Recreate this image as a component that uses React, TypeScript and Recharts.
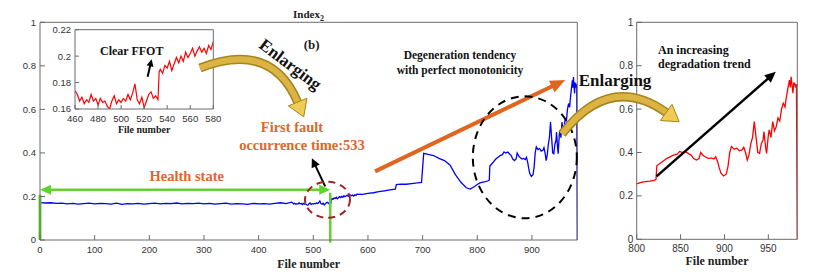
import React from "react";
import {
  LineChart,
  Line,
  XAxis,
  YAxis,
  ReferenceLine,
  ReferenceDot,
} from "recharts";

// index values, split by stage
const healthFiles = [
  0, 10, 20, 30, 40, 50, 60, 70, 80, 90, 100, 110, 120, 130, 140, 150, 160, 170,
  180, 190, 200, 210, 220, 230, 240, 250, 260, 270, 280, 290, 300, 310, 320, 330,
  340, 350, 360, 370, 380, 390, 400, 410, 420, 430, 440, 450,
];
const healthIndex = [
  0.172, 0.17, 0.171, 0.168, 0.169, 0.166, 0.168, 0.165, 0.167, 0.169, 0.166,
  0.168, 0.167, 0.165, 0.169, 0.164, 0.167, 0.166, 0.168, 0.165, 0.167, 0.169,
  0.166, 0.168, 0.167, 0.17, 0.166, 0.168, 0.167, 0.169, 0.166, 0.168, 0.165,
  0.167, 0.169, 0.165, 0.167, 0.166, 0.164, 0.168, 0.166, 0.167, 0.165, 0.168,
  0.171, 0.167,
];

const ffotFiles = [
  460, 462, 464, 466, 468, 470, 472, 474, 476, 478, 480, 482, 484, 486, 488, 490,
  492, 494, 496, 498, 500, 502, 504, 506, 508, 510, 512, 514, 516, 518, 520, 522,
  524, 526, 528, 530, 532, 533, 534, 536, 538, 540, 542, 544, 546, 548, 550, 552,
  554, 556, 558, 560, 562, 564, 566, 568, 570, 572, 574, 576, 578, 580,
];
const ffotIndex = [
  0.174, 0.171, 0.166, 0.169, 0.164, 0.167, 0.165, 0.171, 0.166, 0.168, 0.163,
  0.168, 0.165, 0.166, 0.162, 0.16, 0.166, 0.17, 0.164, 0.167, 0.165, 0.168,
  0.166, 0.171, 0.167, 0.172, 0.179, 0.167, 0.164, 0.169, 0.161, 0.166, 0.171,
  0.173, 0.168, 0.17, 0.167, 0.188, 0.19, 0.187, 0.193, 0.191, 0.196, 0.189,
  0.194, 0.199, 0.195, 0.2, 0.196, 0.203, 0.199, 0.202, 0.206, 0.2, 0.204, 0.207,
  0.203, 0.206, 0.202, 0.208, 0.205, 0.211,
];

const middleFiles = [
  590, 600, 610, 620, 630, 640, 650, 652, 660, 670, 680, 690, 698, 702, 710, 720,
  730, 740, 750, 760, 770, 780, 787, 795,
];
const middleIndex = [
  0.21, 0.214, 0.217, 0.222, 0.226, 0.23, 0.234, 0.255, 0.257, 0.256, 0.259,
  0.262, 0.265, 0.398, 0.393, 0.388, 0.375, 0.365, 0.345, 0.3, 0.265, 0.24,
  0.234, 0.246,
];

const trendFiles = [
  800, 805, 810, 815, 820, 822, 823, 826, 830, 834, 838, 842, 846, 849, 852, 856,
  859, 862, 865, 868, 871, 873, 876, 879, 882, 885, 888, 890, 892, 894, 896, 899,
  902, 904, 906, 908, 911, 914, 917, 920, 922, 924, 926, 928, 930, 932, 934, 936,
  938, 940, 942, 944, 945, 947, 948, 950, 951, 953, 955, 957, 959, 961, 963, 965,
  967, 969, 970, 972, 974, 975, 976, 977, 978, 979, 980, 981, 982, 983,
];
const trendIndex = [
  0.255, 0.262, 0.266, 0.268, 0.272, 0.276, 0.34, 0.348, 0.36, 0.372, 0.38,
  0.388, 0.392, 0.405, 0.4, 0.404, 0.395, 0.388, 0.372, 0.365, 0.372, 0.4,
  0.385, 0.378, 0.372, 0.375, 0.37, 0.38, 0.36, 0.33, 0.305, 0.292, 0.3, 0.335,
  0.4, 0.428, 0.415, 0.42, 0.408, 0.412, 0.424, 0.4, 0.365, 0.39, 0.44, 0.47,
  0.542, 0.47, 0.4, 0.396, 0.44, 0.458, 0.496, 0.42, 0.396, 0.48, 0.504, 0.47,
  0.542, 0.5, 0.519, 0.56, 0.545, 0.6, 0.627, 0.61, 0.642, 0.69, 0.734, 0.7,
  0.749, 0.71, 0.673, 0.72, 0.719, 0.7, 0.715, 0,
];

const mainXTicks = [0, 100, 200, 300, 400, 500, 600, 700, 800, 900];
const indexTicks = [0, 0.2, 0.4, 0.6, 0.8, 1];
const insetXTicks = [460, 480, 500, 520, 540, 560, 580];
const insetYTicks = [0.16, 0.18, 0.2, 0.22];
const zoomXTicks = [800, 850, 900, 950];

const toRows = (files: number[], values: number[]) =>
  files.map((f, i) => ({ file: f, value: values[i] }));

const insetRows = toRows(ffotFiles, ffotIndex);
const trendRows = toRows(trendFiles, trendIndex);
const mainRows = [
  ...toRows(healthFiles, healthIndex),
  ...insetRows,
  ...toRows(middleFiles, middleIndex),
  ...trendRows,
];

const SANS = "'Liberation Sans', Arial, sans-serif";
const SERIF = "'Liberation Serif', 'Times New Roman', serif";
const AXIS = "#6b6b6b";
const ORANGE = "#e2652b";
const GREEN = "#5fd42a";

const headPoints = (
  x1: number,
  y1: number,
  x2: number,
  y2: number,
  len: number,
  half: number
) => {
  const dx = x2 - x1;
  const dy = y2 - y1;
  const d = Math.hypot(dx, dy) || 1;
  const ux = dx / d;
  const uy = dy / d;
  const bx = x2 - ux * len;
  const by = y2 - uy * len;
  return `${x2},${y2} ${bx - uy * half},${by + ux * half} ${bx + uy * half},${by - ux * half}`;
};

const arrow =
  (color: string, width: number, len: number, half: number, both = false) =>
  (p: any) => {
    const x1 = p.x1 ?? p.points?.[0]?.x;
    const y1 = p.y1 ?? p.points?.[0]?.y;
    const x2 = p.x2 ?? p.points?.[1]?.x;
    const y2 = p.y2 ?? p.points?.[1]?.y;
    if ([x1, y1, x2, y2].some((v) => typeof v !== "number")) return <g />;
    const d = Math.hypot(x2 - x1, y2 - y1) || 1;
    const ux = (x2 - x1) / d;
    const uy = (y2 - y1) / d;
    const cut = len * 0.7;
    return (
      <g>
        <line
          x1={both ? x1 + ux * cut : x1}
          y1={both ? y1 + uy * cut : y1}
          x2={x2 - ux * cut}
          y2={y2 - uy * cut}
          stroke={color}
          strokeWidth={width}
        />
        <polygon points={headPoints(x1, y1, x2, y2, len, half)} fill={color} />
        {both && (
          <polygon points={headPoints(x2, y2, x1, y1, len, half)} fill={color} />
        )}
      </g>
    );
  };

const plainLine = (color: string, width: number) => (p: any) => {
  const x1 = p.x1 ?? p.points?.[0]?.x;
  const y1 = p.y1 ?? p.points?.[0]?.y;
  const x2 = p.x2 ?? p.points?.[1]?.x;
  const y2 = p.y2 ?? p.points?.[1]?.y;
  return <line x1={x1} y1={y1} x2={x2} y2={y2} stroke={color} strokeWidth={width} />;
};

const ellipse = (rx: number, ry: number, color: string, dash: string) => (p: any) =>
  (
    <ellipse
      cx={p.cx}
      cy={p.cy}
      rx={rx}
      ry={ry}
      fill="none"
      stroke={color}
      strokeWidth={2}
      strokeDasharray={dash}
    />
  );

// golden "Enlarging" arrows between the panels
const FatArrow = ({
  x0,
  y0,
  cx,
  cy,
  x1,
  y1,
}: {
  x0: number;
  y0: number;
  cx: number;
  cy: number;
  x1: number;
  y1: number;
}) => {
  const d = Math.hypot(x1 - cx, y1 - cy) || 1;
  const ux = (x1 - cx) / d;
  const uy = (y1 - cy) / d;
  const tx = x1 + ux * 15;
  const ty = y1 + uy * 15;
  const path = `M${x0},${y0} Q${cx},${cy} ${x1},${y1}`;
  return (
    <g>
      <path d={path} fill="none" stroke="#a8841f" strokeWidth={9} />
      <path d={path} fill="none" stroke="#dcb443" strokeWidth={6} />
      <polygon
        points={headPoints(x1, y1, tx, ty, 16, 10)}
        fill="#f0cc55"
        stroke="#a8841f"
        strokeWidth={1}
      />
    </g>
  );
};

const tickStyle = { fontSize: 9.5, fill: "#333", fontFamily: SANS };

// top / right axes only close the box (MATLAB style), ticks pointing inward.
// recharts skips axes of zero size, so they get 1px
const frameX = (domain: number[], ticks: number[], size: number) => (
  <XAxis
    xAxisId="top"
    orientation="top"
    type="number"
    domain={domain}
    ticks={ticks}
    allowDataOverflow
    height={1}
    tickSize={-size}
    tick={false}
    stroke={AXIS}
  />
);
const frameY = (domain: number[], ticks: number[], size: number) => (
  <YAxis
    yAxisId="right"
    orientation="right"
    type="number"
    domain={domain}
    ticks={ticks}
    allowDataOverflow
    width={1}
    tickSize={-size}
    tick={false}
    stroke={AXIS}
  />
);

export default function App() {
  return (
    <div
      style={{
        position: "absolute",
        left: 0,
        top: 0,
        width: 818,
        height: 272,
        background: "#fff",
      }}
    >
      <div style={{ position: "absolute", left: 0, top: 0 }}>
        <LineChart
          width={600}
          height={272}
          data={mainRows}
          margin={{ top: 21.3, right: 21.7, bottom: 2, left: 10 }}
        >
          <XAxis
            dataKey="file"
            type="number"
            domain={[0, 983]}
            ticks={mainXTicks}
            allowDataOverflow
            height={30}
            tickSize={-5}
            tickMargin={11}
            stroke={AXIS}
            tick={tickStyle}
            label={{
              value: "File number",
              position: "insideBottom",
              offset: 2,
              fill: "#222",
              fontSize: 12,
              fontWeight: 700,
              fontFamily: SERIF,
            }}
          />
          {frameX([0, 983], mainXTicks, 5)}
          <YAxis
            type="number"
            domain={[0, 1]}
            ticks={indexTicks}
            width={30}
            tickSize={-5}
            tickMargin={9}
            stroke={AXIS}
            tick={tickStyle}
          />
          {frameY([0, 1], indexTicks, 5)}
          <Line
            dataKey="value"
            type="linear"
            stroke="#0000ff"
            strokeWidth={1.3}
            dot={false}
            isAnimationActive={false}
          />
          <ReferenceLine
            segment={[
              { x: 0, y: 0 },
              { x: 0, y: 0.207 },
            ]}
            ifOverflow="visible"
            shape={plainLine(GREEN, 3)}
          />
          <ReferenceLine
            segment={[
              { x: 531, y: -0.012 },
              { x: 531, y: 0.217 },
            ]}
            ifOverflow="visible"
            shape={plainLine(GREEN, 2.5)}
          />
          <ReferenceLine
            segment={[
              { x: 0, y: 0.231 },
              { x: 531, y: 0.231 },
            ]}
            ifOverflow="visible"
            shape={arrow(GREEN, 2.5, 11, 5, true)}
          />
          <ReferenceDot
            x={526}
            y={0.185}
            ifOverflow="visible"
            shape={ellipse(22.5, 18, "#a3202e", "7 5")}
          />
          <ReferenceDot
            x={887}
            y={0.38}
            ifOverflow="visible"
            shape={ellipse(52, 61, "#000", "8 6")}
          />
          <ReferenceLine
            segment={[
              { x: 521.7, y: 0.246 },
              { x: 497.4, y: 0.376 },
            ]}
            ifOverflow="visible"
            shape={arrow("#000", 2, 9, 4.5)}
          />
          <ReferenceLine
            segment={[
              { x: 613, y: 0.315 },
              { x: 961, y: 0.735 },
            ]}
            ifOverflow="visible"
            shape={arrow("#e0651f", 4, 15, 6.5)}
          />
        </LineChart>
      </div>

      <div style={{ position: "absolute", left: 0, top: 0 }}>
        <LineChart
          width={230}
          height={140}
          data={insetRows}
          margin={{ top: 28.7, right: 15.7, bottom: 6, left: 45 }}
        >
          <XAxis
            dataKey="file"
            type="number"
            domain={[460, 580]}
            ticks={insetXTicks}
            allowDataOverflow
            height={25}
            tickSize={-4}
            tickMargin={10}
            stroke={AXIS}
            tick={tickStyle}
            label={{
              value: "File number",
              position: "insideBottom",
              offset: 1.5,
              fill: "#222",
              fontSize: 10,
              fontWeight: 700,
              fontFamily: SERIF,
            }}
          />
          {frameX([460, 580], insetXTicks, 4)}
          <YAxis
            type="number"
            domain={[0.16, 0.22]}
            ticks={insetYTicks}
            allowDataOverflow
            width={30}
            tickSize={-4}
            tickMargin={8}
            stroke={AXIS}
            tick={tickStyle}
          />
          {frameY([0.16, 0.22], insetYTicks, 4)}
          <Line
            dataKey="value"
            type="linear"
            stroke="#ff0000"
            strokeWidth={1.2}
            dot={false}
            isAnimationActive={false}
          />
          <ReferenceLine
            segment={[
              { x: 523, y: 0.1844 },
              { x: 526.5, y: 0.1976 },
            ]}
            ifOverflow="visible"
            shape={arrow("#000", 2, 7, 3.5)}
          />
        </LineChart>
      </div>

      <div style={{ position: "absolute", left: 600, top: 0 }}>
        <LineChart
          width={218}
          height={272}
          data={trendRows}
          margin={{ top: 21.3, right: 19.7, bottom: 2.7, left: 6.7 }}
        >
          <XAxis
            dataKey="file"
            type="number"
            domain={[800, 983]}
            ticks={zoomXTicks}
            allowDataOverflow
            height={30}
            tickSize={-5}
            tickMargin={10.5}
            stroke={AXIS}
            tick={{ ...tickStyle, fontSize: 10 }}
            label={{
              value: "File number",
              position: "insideBottom",
              offset: 4,
              fill: "#222",
              fontSize: 12,
              fontWeight: 700,
              fontFamily: SERIF,
            }}
          />
          {frameX([800, 983], zoomXTicks, 5)}
          <YAxis
            type="number"
            domain={[0, 1]}
            ticks={indexTicks}
            width={30}
            tickSize={-5}
            tickMargin={8.5}
            stroke={AXIS}
            tick={{ ...tickStyle, fontSize: 10 }}
          />
          {frameY([0, 1], indexTicks, 5)}
          <Line
            dataKey="value"
            type="linear"
            stroke="#ff0000"
            strokeWidth={1.3}
            dot={false}
            isAnimationActive={false}
          />
          <ReferenceLine
            segment={[
              { x: 822.6, y: 0.29 },
              { x: 958.5, y: 0.772 },
            ]}
            ifOverflow="visible"
            shape={arrow("#000", 2.5, 11, 5)}
          />
        </LineChart>
      </div>

      <svg
        width={818}
        height={272}
        style={{ position: "absolute", left: 0, top: 0, pointerEvents: "none" }}
      >
        <FatArrow x0={200} y0={68} cx={272} cy={40} x1={298} y1={103} />
        <FatArrow x0={562} y0={134} cx={610} cy={72} x1={667} y1={113} />

        <g fontFamily={SERIF} fontWeight={700}>
          <text x={293} y={17.5} fontSize={11} fill="#222">
            Index
            <tspan fontSize={8} dy={3}>
              2
            </tspan>
          </text>
          <text x={311.7} y={48.5} fontSize={13} textAnchor="middle" fill="#222">
            (b)
          </text>
          <text x={131.7} y={55} fontSize={12} textAnchor="middle" fill="#111">
            Clear FFOT
          </text>
          <text
            x={0}
            y={0}
            fontSize={17}
            textAnchor="middle"
            fill="#111"
            transform="translate(287,69) rotate(37)"
          >
            Enlarging
          </text>
          <text x={292} y={132} fontSize={14.5} textAnchor="middle" fill={ORANGE}>
            First fault
          </text>
          <text x={302} y={149.5} fontSize={14.5} textAnchor="middle" fill={ORANGE}>
            occurrence time:533
          </text>
          <text x={186.7} y={181} fontSize={14.5} textAnchor="middle" fill={ORANGE}>
            Health state
          </text>
          <text x={460} y={59} fontSize={11.5} textAnchor="middle" fill="#111">
            Degeneration tendency
          </text>
          <text x={460} y={73.5} fontSize={11.5} textAnchor="middle" fill="#111">
            with perfect monotonicity
          </text>
          <text x={615} y={86} fontSize={17} textAnchor="middle" fill="#111">
            Enlarging
          </text>
          <text x={658} y={54} fontSize={12} fill="#111">
            An increasing
          </text>
          <text x={658} y={67.5} fontSize={12} fill="#111">
            degradation trend
          </text>
        </g>
      </svg>
    </div>
  );
}
